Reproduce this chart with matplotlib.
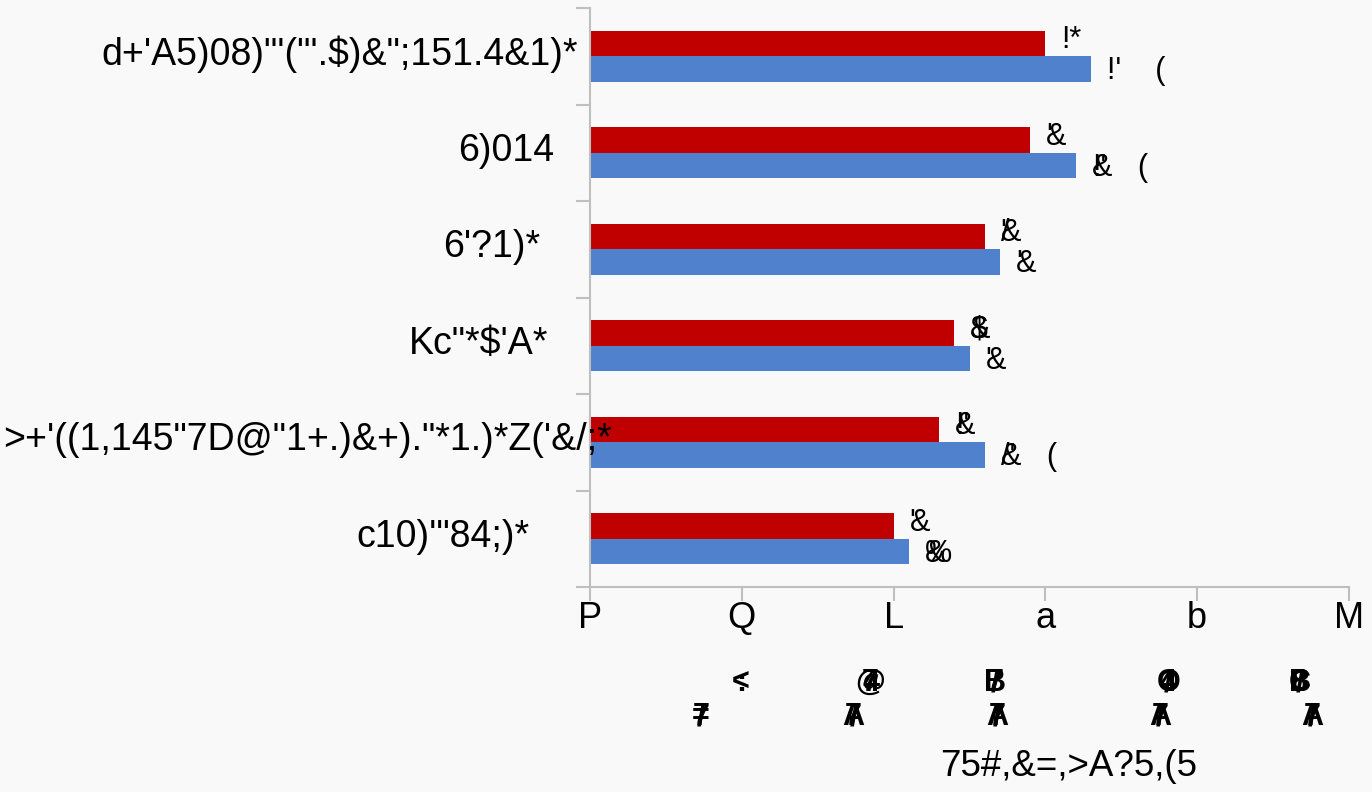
import matplotlib.pyplot as plt
import numpy as np

# categories top to bottom, as they appear in the reference
CATEGORIES = [
    "d+'A5)08)\"'(\"'.$)&\";151.4&1)*",
    "6)014",
    "6'?1)*",
    "Kc\"*$'A*",
    ">+'((1,145\"7D@\"1+.)&+).\"*1.)*Z('&/;*",
    "c10)'\"84;)*",
]
RED_VALUES = [3.0, 2.9, 2.6, 2.4, 2.3, 2.0]
BLUE_VALUES = [3.3, 3.2, 2.7, 2.5, 2.6, 2.1]

# value labels: every tuple is drawn as overlapping layers at one anchor
RED_LABELS = [("!*",), ("&", "'"), ("&", "'", "/"), ("&", "$"), ("&", "!'"), ("&", "'")]
BLUE_LABELS = [("!'    (",), ("&   (", "!'"), ("&", "'"), ("&", "'"), ("&   (", "/'"), ("&", "%")]

X_TICKS = [0, 1, 2, 3, 4, 5]
X_TICK_LABELS = ["P", "Q", "L", "a", "b", "M"]
SUB_ROW1 = [(":", "<"), ("7", "4", "@"), ("7", "B", "/"), ("O", "4", "/"), ("8", "B", "C", "/")]
SUB_ROW2 = [("7", "=", "/"), ("7", "A", "/"), ("7", "A", "/"), ("7", "A", "/"), ("7", "A", "/")]
X_LABEL = "75#,&=,>A?5,(5"

RED = "#c00000"
BLUE = "#4f81cd"
BG = "#f9f9f9"
GRID = "#bfbfbf"

plt.rcParams["font.family"] = ["Liberation Sans", "DejaVu Sans"]

fig = plt.figure(figsize=(13.72, 7.92), dpi=100, facecolor=BG)
ax = fig.add_axes([590 / 1372, 1 - 587 / 792, 759 / 1372, 579 / 792])
ax.set_facecolor(BG)

y = np.arange(len(CATEGORIES))
h = 0.265
ax.barh(y - h / 2, RED_VALUES, height=h, color=RED, zorder=2)
ax.barh(y + h / 2, BLUE_VALUES, height=h, color=BLUE, zorder=2)

ax.set_xlim(0, 5)
ax.set_ylim(len(CATEGORIES) - 0.5, -0.5)

for s in ["top", "right"]:
    ax.spines[s].set_visible(False)
for s in ["left", "bottom"]:
    ax.spines[s].set_color(GRID)
    ax.spines[s].set_linewidth(1.5)

# y ticks sit on the category boundaries, labels drawn separately
ax.set_yticks(np.arange(-0.5, len(CATEGORIES), 1.0))
ax.set_yticklabels([])
ax.tick_params(axis="y", length=10, width=1.5, color=GRID)

ax.set_xticks(X_TICKS)
ax.set_xticklabels(X_TICK_LABELS, fontsize=26)
ax.tick_params(axis="x", length=10, width=1.5, color=GRID, pad=0)

# category labels have uneven right edges in the reference
label_dx = [-12, -36, -50, -42, 22, -60]
ytrans = ax.get_yaxis_transform()
for i, (cat, dx) in enumerate(zip(CATEGORIES, label_dx)):
    ax.annotate(cat, xy=(0, i), xycoords=ytrans, xytext=(dx, 2),
                textcoords="offset pixels", ha="right", va="center",
                fontsize=27, annotation_clip=False, zorder=5)


def layered(xy, layers, dx, dy, size, ha="left", coords="data", weight="normal"):
    for part in layers:
        ax.annotate(part, xy=xy, xycoords=coords, xytext=(dx, dy),
                    textcoords="offset pixels", ha=ha, va="center",
                    fontsize=size, fontweight=weight, annotation_clip=False)


for i in range(len(CATEGORIES)):
    layered((RED_VALUES[i], y[i] - h / 2), RED_LABELS[i], 16, 3, 22)
    layered((BLUE_VALUES[i], y[i] + h / 2), BLUE_LABELS[i], 16, -2, 22)

# the second and third tick rows are piles of overlapping glyphs
xtrans = ax.get_xaxis_transform()
row1_dx = [-1, -23, -50, -29, -49]
row2_dx = [-41, -40, -48, -37, -37]
for tick, parts, dx in zip(X_TICKS[1:], SUB_ROW1, row1_dx):
    layered((tick, 0), parts, dx, -96, 22, ha="center", coords=xtrans, weight="bold")
for tick, parts, dx in zip(X_TICKS[1:], SUB_ROW2, row2_dx):
    layered((tick, 0), parts, dx, -130, 22, ha="center", coords=xtrans, weight="bold")

ax.annotate(X_LABEL, xy=(0.63, 0), xycoords="axes fraction", xytext=(0, -180),
            textcoords="offset pixels", ha="center", va="center", fontsize=26.5,
            annotation_clip=False)

fig.savefig("out.png", dpi=100, facecolor=BG)
